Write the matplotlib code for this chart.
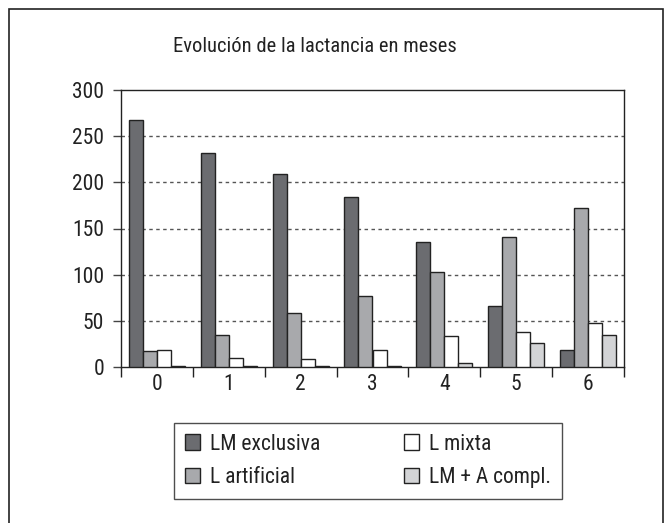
import matplotlib
matplotlib.use("Agg")
import matplotlib.pyplot as plt
import numpy as np
from matplotlib.patches import Rectangle

plt.rcParams['font.family'] = ['Roboto Condensed', 'Archivo Narrow', 'DejaVu Sans']

months = ['0', '1', '2', '3', '4', '5', '6']
series_names = ['LM exclusiva', 'L artificial', 'L mixta', 'LM + A compl.']
lm_exclusiva = [267, 232, 209, 184, 135, 66, 18]
l_artificial = [17, 35, 58, 77, 103, 141, 172]
l_mixta = [18, 10, 9, 18, 34, 38, 48]
lm_a_compl = [1, 1, 1, 1, 4, 26, 35]
yticks = [0, 50, 100, 150, 200, 250, 300]
title = 'Evolución de la lactancia en meses'

colors = ['#6b6c70', '#a8a9ac', '#ffffff', '#d3d4d6']
series = [lm_exclusiva, l_artificial, l_mixta, lm_a_compl]

W, H = 670, 523
FS = 15.5
TXT = '#222222'
fig = plt.figure(figsize=(W / 100, H / 100), dpi=100)
fig.patch.set_facecolor('white')

ax = fig.add_axes([121 / W, 1 - 367 / H, (624 - 121) / W, (367 - 90) / H])

x = np.arange(len(months))
bw = 0.195
offsets = (np.arange(4) - 1.5) * bw
handles = []
for s, vals, c, off in zip(series_names, series, colors, offsets):
    b = ax.bar(x + off, vals, width=bw, color=c, edgecolor='#222222', linewidth=1.0, label=s, zorder=3)
    handles.append(b)

ax.set_xlim(-0.5, 6.5)
ax.set_ylim(0, 300)
ax.set_yticks(yticks)
ax.set_yticklabels([str(v) for v in yticks], fontsize=FS, color=TXT)
ax.set_xticks(np.arange(-0.5, 7, 1.0))
ax.set_xticklabels([])
ax.set_xticks(x, minor=True)
ax.set_xticklabels(months, minor=True, fontsize=FS, color=TXT)
ax.tick_params(axis='x', which='major', direction='out', length=7, width=1, color='#222222')
ax.tick_params(axis='x', which='minor', length=0, pad=5)
ax.tick_params(axis='y', direction='out', length=6, width=1, color='#444444', pad=6)

for v in yticks[1:-1]:
    ax.axhline(v, color='#555555', linestyle=(0, (2.5, 2.5)), linewidth=1.0, zorder=1)

for sp in ax.spines.values():
    sp.set_color('#222222')
    sp.set_linewidth(1.0)

fig.text(315 / W, 1 - 46 / H, title, ha='center', va='center', fontsize=14.8, color=TXT)

leg = fig.legend(handles=handles, labels=series_names, ncol=2,
                 loc='center', bbox_to_anchor=(368 / W, 1 - 461 / H),
                 fontsize=FS, frameon=True, fancybox=False,
                 handlelength=0.7, handleheight=0.7, handletextpad=0.45,
                 columnspacing=3.9, labelspacing=0.6, borderpad=0.5,
                 borderaxespad=0)
leg.get_frame().set_edgecolor('#222222')
leg.get_frame().set_linewidth(1.0)
for t in leg.get_texts():
    t.set_color(TXT)

fig.add_artist(Rectangle((9 / W, -0.05), (663 - 9) / W, 1 - 9 / H + 0.05,
                         transform=fig.transFigure, fill=False,
                         edgecolor='#222222', linewidth=1.2))

fig.savefig('out.png', dpi=100, facecolor='white')
